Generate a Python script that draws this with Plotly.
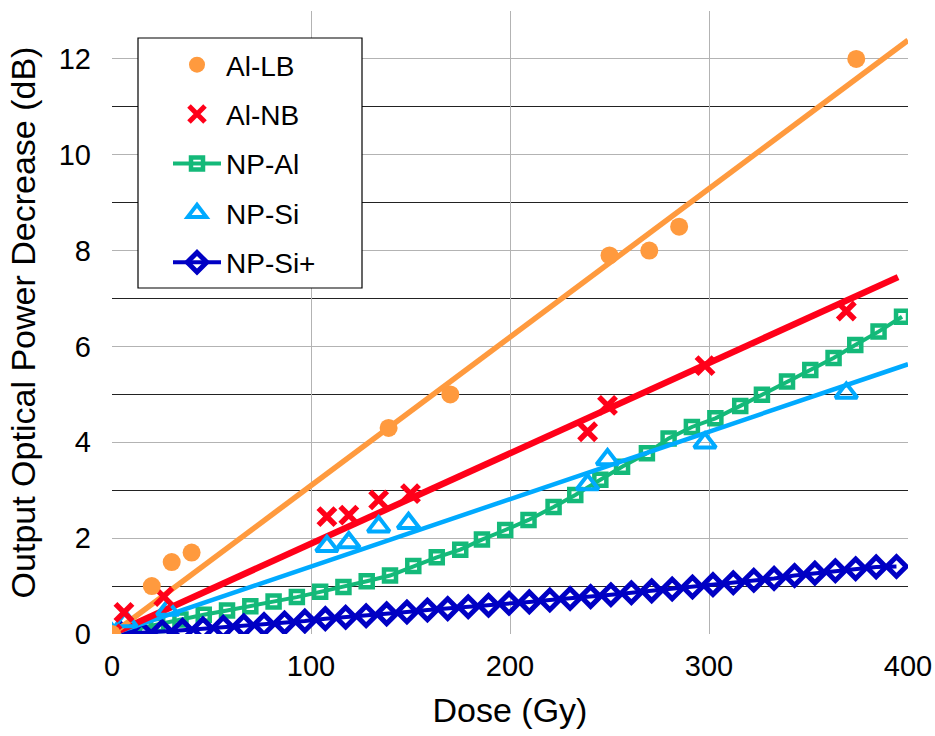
import numpy as np
import plotly.graph_objects as go

# ---------------- data ----------------
al_lb_dose = [0, 20, 30, 40, 139, 170, 250, 270, 285, 374]
al_lb_db = [0.0, 1.0, 1.5, 1.7, 4.3, 5.0, 7.9, 8.0, 8.5, 12.0]

al_nb_dose = [0, 6, 26, 108, 119, 134, 150, 239, 249, 298, 369]
al_nb_db = [0.0, 0.45, 0.78, 2.45, 2.48, 2.8, 2.93, 4.22, 4.77, 5.6, 6.74]

np_si_dose = [0, 7, 28, 108, 119, 134, 149, 239, 249, 298, 369]
np_si_db = [0.0, 0.26, 0.5, 1.83, 1.91, 2.24, 2.31, 3.12, 3.64, 3.99, 5.03]

np_al_dose = [0, 11.0, 22.7, 34.4, 46.1, 57.8, 69.5, 81.2, 92.9, 104.6, 116.3,
              128.0, 139.7, 151.4, 163.2, 175.0, 185.9, 197.6, 209.3, 221.9,
              232.8, 245.4, 256.3, 268.8, 279.7, 291.4, 303.2, 315.7, 326.6,
              339.2, 350.9, 362.6, 373.5, 385.2, 397.0]
np_al_db = [0.0, 0.10, 0.19, 0.30, 0.40, 0.49, 0.58, 0.68, 0.77, 0.88, 0.98,
            1.10, 1.22, 1.42, 1.60, 1.76, 1.97, 2.17, 2.38, 2.65,
            2.90, 3.22, 3.49, 3.77, 4.08, 4.32, 4.50, 4.76, 4.99,
            5.27, 5.51, 5.76, 6.03, 6.31, 6.62]

np_sip_dose = [4.7, 14.9, 25.2, 35.4, 45.7, 55.9, 66.2, 76.4, 86.7, 96.9,
               107.2, 117.4, 127.7, 138.0, 148.2, 158.5, 168.7, 179.0, 189.2,
               199.5, 209.7, 220.0, 230.2, 240.5, 250.7, 261.0, 271.2, 281.5,
               291.7, 302.0, 312.2, 322.5, 332.7, 343.0, 353.2, 363.5, 373.7,
               384.0, 394.2]
np_sip_db = [0.0, 0.02, 0.05, 0.08, 0.11, 0.14, 0.17, 0.20, 0.23, 0.27,
             0.32, 0.35, 0.38, 0.42, 0.46, 0.50, 0.53, 0.57, 0.60,
             0.64, 0.67, 0.71, 0.74, 0.78, 0.82, 0.86, 0.90, 0.94,
             0.98, 1.03, 1.07, 1.12, 1.16, 1.22, 1.27, 1.32, 1.36,
             1.40, 1.41]

x_ticks = [0, 100, 200, 300, 400]
y_ticks = [0, 2, 4, 6, 8, 10, 12]
trend_x_end = {"Al-LB": 400, "Al-NB": 395, "NP-Si": 400}

# ---------------- styles ----------------
C_ORANGE = "#FF9A3E"
C_RED = "#FF0019"
C_GREEN = "#14B979"
C_LBLUE = "#00AAFF"
C_DBLUE = "#0000C4"
FONT = "Liberation Sans, Arial, Helvetica, sans-serif"


def fit_origin(x, y):
    x = np.asarray(x, float)
    y = np.asarray(y, float)
    return float((x * y).sum() / (x * x).sum())


fig = go.Figure()

fig.add_trace(go.Scatter(x=np_al_dose, y=np_al_db, mode="lines+markers", name="NP-Al",
                         legendgroup="c", legendrank=3,
                         line=dict(color=C_GREEN, width=4),
                         marker=dict(symbol="square-open", size=12, color=C_GREEN,
                                     line=dict(color=C_GREEN, width=4.5))))
fig.add_trace(go.Scatter(x=np_sip_dose, y=np_sip_db, mode="lines+markers", name="NP-Si+",
                         legendgroup="e", legendrank=5,
                         line=dict(color=C_DBLUE, width=4),
                         marker=dict(symbol="diamond-open", size=15, color=C_DBLUE,
                                     line=dict(color=C_DBLUE, width=5))))

# linear trend lines through the origin
for name, xs, ys, col, w in [("NP-Si", np_si_dose, np_si_db, C_LBLUE, 4.5),
                             ("Al-NB", al_nb_dose, al_nb_db, C_RED, 6.5),
                             ("Al-LB", al_lb_dose, al_lb_db, C_ORANGE, 5.5)]:
    k = fit_origin(xs, ys)
    xe = [0, trend_x_end[name]]
    fig.add_trace(go.Scatter(x=xe, y=[k * v for v in xe], mode="lines", showlegend=False,
                             hoverinfo="skip", line=dict(color=col, width=w)))

fig.add_trace(go.Scatter(x=np_si_dose, y=np_si_db, mode="markers", name="NP-Si",
                         legendgroup="d", legendrank=4,
                         marker=dict(symbol="triangle-up-open", size=19, color=C_LBLUE,
                                     line=dict(color=C_LBLUE, width=4))))
fig.add_trace(go.Scatter(x=al_nb_dose, y=al_nb_db, mode="markers", name="Al-NB",
                         legendgroup="b", legendrank=2,
                         marker=dict(symbol="x-thin-open", size=17, color=C_RED,
                                     line=dict(color=C_RED, width=5.5))))
fig.add_trace(go.Scatter(x=al_lb_dose, y=al_lb_db, mode="markers", name="Al-LB",
                         legendgroup="a", legendrank=1,
                         marker=dict(symbol="circle", size=18, color=C_ORANGE)))

W, H = 935, 736
ml, mr, mt, mb = 112, 27, 11, 102
pw, ph = W - ml - mr, H - mt - mb


def px2paper(px, py):
    return (px - ml) / pw, (H - mb - py) / ph


lx0, ly0 = px2paper(138, 38)
lx1, ly1 = px2paper(362, 288)
fig.add_shape(type="rect", xref="paper", yref="paper", x0=lx0, x1=lx1, y0=ly1, y1=ly0,
              fillcolor="white", line=dict(color="black", width=1.2), layer="above")

legx, legy = px2paper(168, 40)

fig.update_layout(
    width=W, height=H,
    margin=dict(l=ml, r=mr, t=mt, b=mb, autoexpand=False),
    paper_bgcolor="white", plot_bgcolor="white",
    font=dict(family=FONT, color="black", size=28),
    showlegend=True,
    legend=dict(x=legx, y=legy, xanchor="left", yanchor="top",
                bgcolor="rgba(0,0,0,0)", borderwidth=0,
                font=dict(family=FONT, size=28, color="black"),
                itemwidth=48, tracegroupgap=10, traceorder="grouped",
                indentation=0),
    xaxis=dict(range=[0, 400], tickvals=x_ticks, showgrid=True, gridcolor="#B3B3B3",
               gridwidth=1.3, zeroline=False, showline=False, ticks="", automargin=False,
               tickfont=dict(size=29), ticklabelstandoff=12,
               title=dict(text="Dose (Gy)", font=dict(size=34), standoff=17)),
    yaxis=dict(range=[0, 13], tickvals=y_ticks, showgrid=True, gridcolor="#B3B3B3",
               gridwidth=1.3, zeroline=False, showline=False, ticks="", automargin=False,
               tickfont=dict(size=29), ticklabelstandoff=20,
               minor=dict(dtick=1, tick0=0, showgrid=True, gridcolor="#222222", gridwidth=1.3),
               title=dict(text="Output Optical Power Decrease (dB)", font=dict(size=34), standoff=12)),
)

fig.write_html("out.html", config={"displayModeBar": False},
               post_script="document.body.style.margin='0px';")
